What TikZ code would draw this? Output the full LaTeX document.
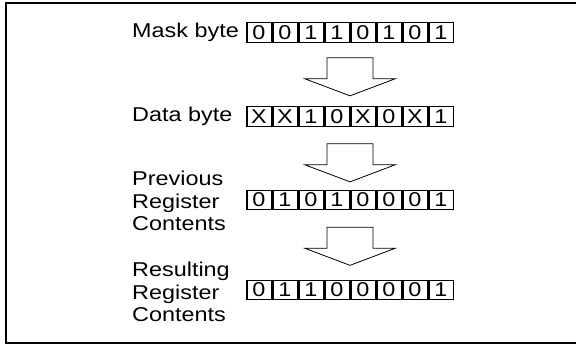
\documentclass[tikz,border=0pt]{standalone}
\usepackage{fontspec}
\setmainfont{Liberation Sans}[FakeStretch=1.17]
\usetikzlibrary{calc,positioning}
\tikzset{
  bit/.style={draw,line width=1.2pt,minimum width=24.2pt,minimum height=19.5pt,inner sep=0pt,font=\fontsize{20}{22.5}\selectfont},
  rowname/.style={anchor=west,align=left,inner sep=0pt,font=\fontsize{20}{22.5}\selectfont},
  frame/.style={line width=2pt},
  downarrow/.pic={
    \draw[line width=0.8pt] (-23,0) -- (-23,21) -- (-45,21) -- (0,38) -- (45,21) -- (23,21) -- (23,0) -- cycle;
  }
}
\begin{document}
\begin{tikzpicture}[x=1pt,y=-1pt]
    \useasboundingbox (0,0) rectangle (576,347);
    \draw[frame] (590,3) -- (6,3) -- (6,343) -- (590,343);
    % the four bytes
    \foreach \b [count=\i] in {0,0,1,1,0,1,0,1}
      \node[bit] (m\i) at (233+26*\i,32.5) {\b};
    \foreach \b [count=\i] in {X,X,1,0,X,0,X,1}
      \node[bit] (d\i) at (233+26*\i,116.5) {\b};
    \foreach \b [count=\i] in {0,1,0,1,0,0,0,1}
      \node[bit] (p\i) at (233+26*\i,200) {\b};
    \foreach \b [count=\i] in {0,1,1,0,0,0,0,1}
      \node[bit] (r\i) at (233+26*\i,290) {\b};
    \node[rowname] (mname) at (132,32.5) {Mask byte};
    \node[rowname] (dname) at (132,116.5) {Data byte};
    \node[rowname] (pname) at (132,201) {Previous\\Register\\Contents};
    \node[rowname] (rname) at (132,292) {Resulting\\Register\\Contents};
    % arrows between them
    \pic at ($(m4.south)!0.5!(m5.south)+(0,15)$) {downarrow};
    \pic at ($(d4.south)!0.5!(d5.south)+(0,17)$) {downarrow};
    \pic at ($(p4.south)!0.5!(p5.south)+(0,17)$) {downarrow};
\end{tikzpicture}
\end{document}
